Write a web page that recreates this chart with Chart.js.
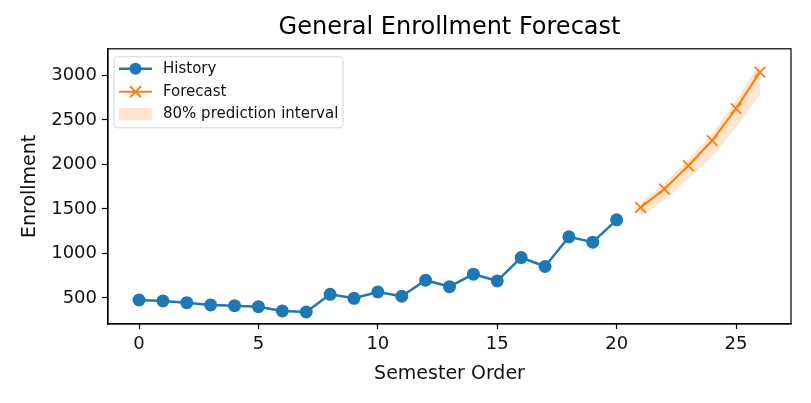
<!DOCTYPE html>
<html>
<head>
<meta charset="utf-8">
<script src="https://cdn.jsdelivr.net/npm/chart.js@4.4.1/dist/chart.umd.min.js"></script>
<style>
  html, body { margin: 0; padding: 0; background: #fff; }
  #wrap { width: 811px; height: 403px; }
</style>
</head>
<body>
<div id="wrap"><canvas id="myChart"></canvas></div>
<script>
const semesters = [0, 1, 2, 3, 4, 5, 6, 7, 8, 9, 10, 11, 12, 13, 14, 15, 16, 17, 18, 19, 20];
const history = [477, 466, 447, 421, 413, 402, 354, 342, 541, 496, 567, 519, 699, 627, 767, 691, 954, 853, 1187, 1127, 1378];
const forecastSemesters = [21, 22, 23, 24, 25, 26];
const forecast = [1517, 1724, 1986, 2268, 2628, 3037];
const lower80 = [1420, 1600, 1840, 2090, 2420, 2780];
const upper80 = [1570, 1790, 2060, 2350, 2720, 3150];
const xTicks = [0, 5, 10, 15, 20, 25];
const yTicks = [500, 1000, 1500, 2000, 2500, 3000];

const pts = (xs, ys) => xs.map((x, i) => ({ x: x, y: ys[i] }));

const font = "'DejaVu Sans', sans-serif";

// frame round the plot area plus a matplotlib-style legend inside it
const framePlugin = {
  id: "frame",
  afterDraw(chart) {
    const ctx = chart.ctx;
    const a = chart.chartArea;
    ctx.save();
    ctx.strokeStyle = "#000";
    ctx.lineWidth = 1.2;
    ctx.strokeRect(a.left, a.top, a.right - a.left, a.bottom - a.top);

    // legend
    const bx = a.left + 6, by = a.top + 8, bw = 229, bh = 71;
    ctx.fillStyle = "rgba(255,255,255,0.85)";
    ctx.strokeStyle = "#d6d6d6";
    ctx.lineWidth = 1;
    ctx.beginPath();
    ctx.roundRect(bx, by, bw, bh, 3);
    ctx.fill();
    ctx.stroke();

    const hx0 = bx + 5, hx1 = bx + 38, tx = bx + 49;
    ctx.font = "15px " + font;
    ctx.textBaseline = "middle";

    // History
    let y = by + 12;
    ctx.strokeStyle = "#1f77b4";
    ctx.lineWidth = 2.4;
    ctx.beginPath(); ctx.moveTo(hx0, y); ctx.lineTo(hx1, y); ctx.stroke();
    ctx.fillStyle = "#1f77b4";
    ctx.beginPath(); ctx.arc((hx0 + hx1) / 2, y, 6, 0, Math.PI * 2); ctx.fill();
    ctx.fillStyle = "#111";
    ctx.fillText("History", tx, y);

    // Forecast
    y = by + 35;
    ctx.strokeStyle = "#ff7f0e";
    ctx.lineWidth = 2;
    ctx.beginPath(); ctx.moveTo(hx0, y); ctx.lineTo(hx1, y); ctx.stroke();
    const cx = (hx0 + hx1) / 2, r = 5.5;
    ctx.beginPath();
    ctx.moveTo(cx - r, y - r); ctx.lineTo(cx + r, y + r);
    ctx.moveTo(cx - r, y + r); ctx.lineTo(cx + r, y - r);
    ctx.stroke();
    ctx.fillStyle = "#111";
    ctx.fillText("Forecast", tx, y);

    // interval patch
    y = by + 57;
    ctx.fillStyle = "rgba(255,127,14,0.2)";
    ctx.fillRect(hx0, y - 6, hx1 - hx0, 12);
    ctx.fillStyle = "#111";
    ctx.fillText("80% prediction interval", tx, y);
    ctx.restore();
  }
};

new Chart(document.getElementById("myChart"), {
  type: "line",
  data: {
    datasets: [
      {
        label: "lower",
        data: pts(forecastSemesters, lower80),
        borderWidth: 0,
        pointRadius: 0,
        fill: false,
        tension: 0.3,
        order: 3
      },
      {
        label: "80% prediction interval",
        data: pts(forecastSemesters, upper80),
        borderWidth: 0,
        pointRadius: 0,
        backgroundColor: "rgba(255,127,14,0.2)",
        fill: "-1",
        tension: 0.3,
        order: 3
      },
      {
        label: "History",
        data: pts(semesters, history),
        borderColor: "#1f77b4",
        backgroundColor: "#1f77b4",
        borderWidth: 2.5,
        pointRadius: 6.5,
        pointBorderWidth: 0,
        fill: false,
        order: 1
      },
      {
        label: "Forecast",
        data: pts(forecastSemesters, forecast),
        borderColor: "#ff7f0e",
        backgroundColor: "#ff7f0e",
        borderWidth: 2.2,
        pointStyle: "crossRot",
        pointRadius: 7.5,
        pointBorderWidth: 1.8,
        fill: false,
        order: 2
      }
    ]
  },
  options: {
    responsive: true,
    maintainAspectRatio: false,
    animation: false,
    layout: { padding: { left: 0, right: 20, top: 0, bottom: 0 } },
    plugins: {
      legend: { display: false },
      tooltip: { enabled: false },
      title: {
        display: true,
        text: "General Enrollment Forecast",
        fullSize: false,
        color: "#000",
        font: { family: font, size: 24, weight: "normal" },
        padding: { top: 13, bottom: 7 }
      }
    },
    scales: {
      x: {
        type: "linear",
        min: -1.3,
        max: 27.3,
        afterFit(scale) { scale.height = 79; },
        afterBuildTicks(scale) { scale.ticks = xTicks.map(v => ({ value: v })); },
        grid: { display: true, drawOnChartArea: false, drawTicks: true, tickLength: 5, tickColor: "#000", tickWidth: 1.2 },
        border: { display: true, color: "#000", width: 1.2 },
        ticks: { color: "#111", font: { family: font, size: 18 }, padding: 5, maxRotation: 0,
          callback: v => String(v) },
        title: {
          display: true,
          text: "Semester Order",
          color: "#111",
          font: { family: font, size: 19 },
          padding: { top: 4, bottom: 18 }
        }
      },
      y: {
        type: "linear",
        min: 207,
        max: 3300,
        afterFit(scale) { scale.width = 108; },
        afterBuildTicks(scale) { scale.ticks = yTicks.map(v => ({ value: v })); },
        grid: { display: true, drawOnChartArea: false, drawTicks: true, tickLength: 6, tickColor: "#000", tickWidth: 1.2 },
        border: { display: true, color: "#000", width: 1.2 },
        ticks: { color: "#111", font: { family: font, size: 18 }, padding: 5,
          callback: v => String(v) },
        title: {
          display: true,
          text: "Enrollment",
          color: "#111",
          font: { family: font, size: 19 },
          padding: { top: 19, bottom: 0 }
        }
      }
    }
  },
  plugins: [framePlugin]
});
</script>
</body>
</html>
